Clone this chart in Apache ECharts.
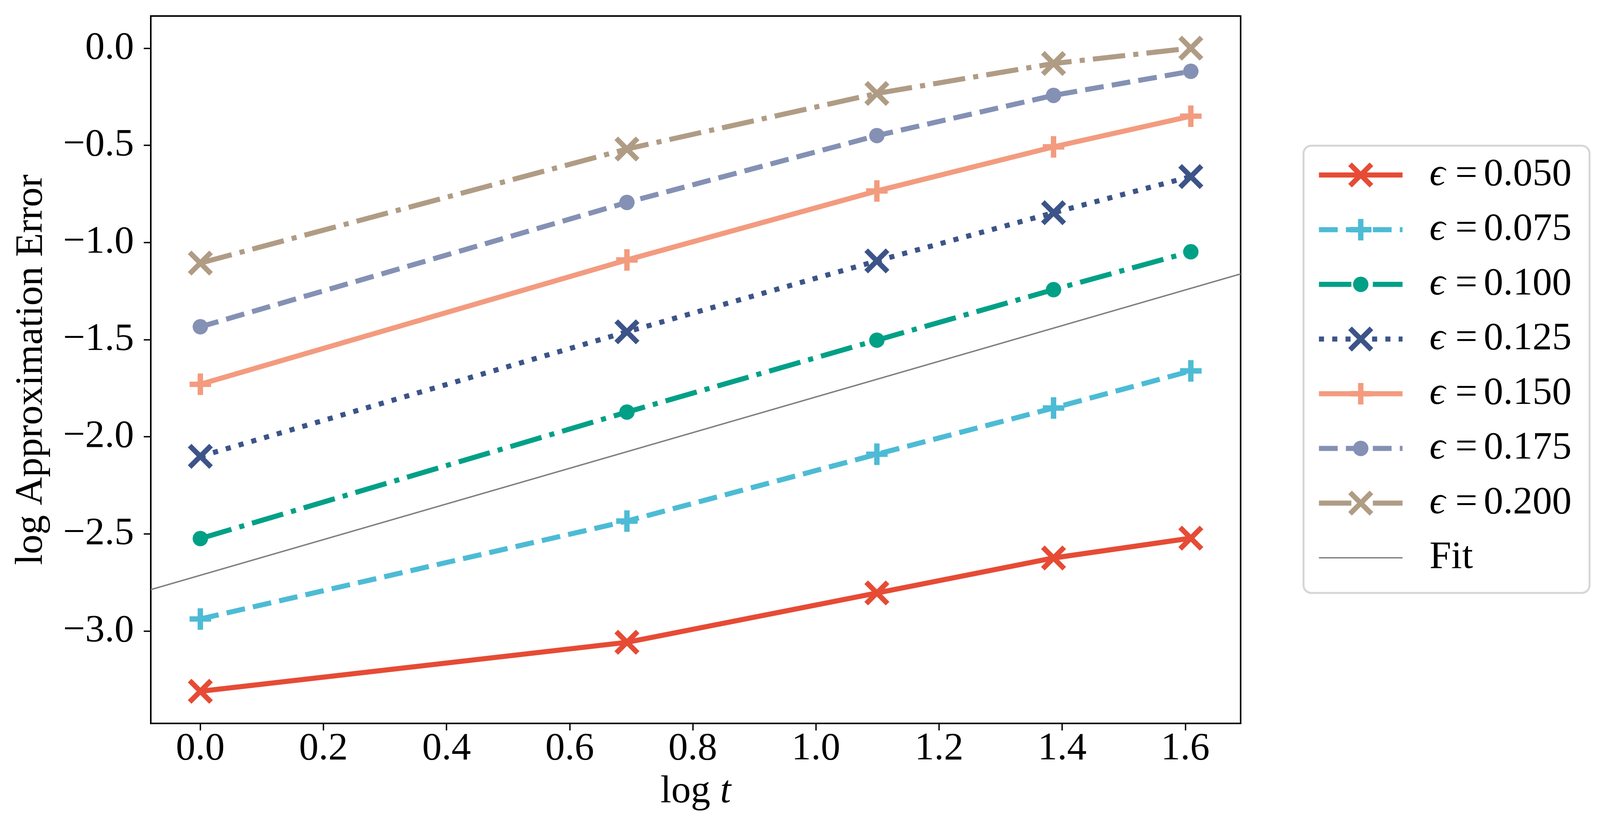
<!DOCTYPE html>
<html>
<head>
<meta charset="utf-8">
<title>log Approximation Error</title>
<script src="https://cdn.jsdelivr.net/npm/echarts@6/dist/echarts.min.js"></script>
<style>
    html, body { margin: 0; padding: 0; background: #fff; }
    #chart { width: 4113px; height: 2130px; }
</style>
</head>
<body>
<div id="chart"></div>
<script>
// x positions (log t) and values
var logT = [0, 0.693, 1.099, 1.386, 1.609];
var eps050 = [-3.310, -3.058, -2.804, -2.624, -2.522];
var eps075 = [-2.938, -2.434, -2.090, -1.852, -1.661];
var eps100 = [-2.524, -1.873, -1.503, -1.243, -1.048];
var eps125 = [-2.101, -1.460, -1.095, -0.847, -0.661];
var eps150 = [-1.730, -1.090, -0.735, -0.508, -0.350];
var eps175 = [-1.434, -0.794, -0.450, -0.243, -0.119];
var eps200 = [-1.106, -0.519, -0.233, -0.079, 0.000];
var seriesNames = ['ϵ = 0.050', 'ϵ = 0.075', 'ϵ = 0.100', 'ϵ = 0.125', 'ϵ = 0.150', 'ϵ = 0.175', 'ϵ = 0.200'];
// fit line, end points at the axis edges
var fitX = [-0.0805, 1.6899];
var fitY = [-2.787, -1.162];
var xTicks = [0, 0.2, 0.4, 0.6, 0.8, 1.0, 1.2, 1.4, 1.6];
var yTicks = [-3.0, -2.5, -2.0, -1.5, -1.0, -0.5, 0.0];

var FONT = "'Liberation Serif', 'DejaVu Serif', serif";
var LW = 13;

// markers, all drawn in a 10x10 box so one symbolSize fits all
var SYM_X = 'path://M0 0M10 10M0 1.45L1.45 0L10 8.55L8.55 10ZM8.55 0L10 1.45L1.45 10L0 8.55Z';
var SYM_PLUS = 'path://M0 0M10 10M3.92 0.7H6.08V3.92H9.3V6.08H6.08V9.3H3.92V6.08H0.7V3.92H3.92Z';
var SYM_DOT = 'path://M0 0M10 10M5 1.92A3.08 3.08 0 1 1 5 8.08A3.08 3.08 0 1 1 5 1.92Z';

var DASHED = [48, 21];
var DASHDOT = [83, 21, 13, 21];
var DOTTED = [13, 21];

function pairs(xs, ys) {
    var out = [];
    for (var i = 0; i < xs.length; i++) out.push([xs[i], ys[i]]);
    return out;
}

function lineSeries(name, values, color, symbol, dash) {
    return {
        name: name,
        type: 'line',
        data: pairs(logT, values),
        symbol: symbol,
        symbolSize: 64,
        showSymbol: true,
        itemStyle: { color: color },
        lineStyle: { color: color, width: LW, type: dash, cap: 'butt', join: 'miter' },
        emphasis: { disabled: true },
        z: 3
    };
}

function fmt(v) {
    return v.toFixed(1).replace('-', '\u2212');
}

var chart = echarts.init(document.getElementById('chart'), null, { renderer: 'canvas' });

var series = [
    lineSeries(seriesNames[0], eps050, '#E64B35', SYM_X, 'solid'),
    lineSeries(seriesNames[1], eps075, '#4DBBD5', SYM_PLUS, DASHED),
    lineSeries(seriesNames[2], eps100, '#00A087', SYM_DOT, DASHDOT),
    lineSeries(seriesNames[3], eps125, '#3C5488', SYM_X, DOTTED),
    lineSeries(seriesNames[4], eps150, '#F39B7F', SYM_PLUS, 'solid'),
    lineSeries(seriesNames[5], eps175, '#8491B4', SYM_DOT, DASHED),
    lineSeries(seriesNames[6], eps200, '#B09C85', SYM_X, DASHDOT),
    {
        name: 'Fit',
        type: 'line',
        data: pairs(fitX, fitY),
        symbol: 'none',
        itemStyle: { color: '#7f7f7f' },
        lineStyle: { color: '#7f7f7f', width: 3.5, type: 'solid' },
        emphasis: { disabled: true },
        z: 4
    }
];

var legendData = seriesNames.map(function (n) { return { name: n }; });
legendData.push({ name: 'Fit', itemStyle: { opacity: 0 }, lineStyle: { width: 3.5 } });

chart.setOption({
    animation: false,
    backgroundColor: '#ffffff',
    grid: {
        left: 386, top: 41, right: 937, bottom: 278,
        show: true, borderColor: '#000', borderWidth: 4, backgroundColor: 'transparent'
    },
    xAxis: {
        type: 'value',
        min: -0.0805, max: 1.6899,
        name: '{r|log }{i|t}',
        nameLocation: 'middle',
        nameGap: 126,
        nameTextStyle: {
            rich: {
                r: { fontFamily: FONT, fontSize: 100, color: '#000' },
                i: { fontFamily: FONT, fontSize: 100, fontStyle: 'italic', color: '#000' }
            }
        },
        axisLine: { show: true, onZero: false, lineStyle: { color: '#000', width: 4 } },
        axisTick: { show: true, inside: false, length: 18, lineStyle: { color: '#000', width: 3.5 }, customValues: xTicks },
        axisLabel: { show: true, margin: 16, fontFamily: FONT, fontSize: 100, color: '#000', customValues: xTicks, formatter: fmt },
        splitLine: { show: false }
    },
    yAxis: {
        type: 'value',
        min: -3.4755, max: 0.1655,
        name: 'log Approximation Error',
        nameLocation: 'middle',
        nameGap: 255,
        nameRotate: 90,
        nameTextStyle: { fontFamily: FONT, fontSize: 100, color: '#000' },
        axisLine: { show: true, onZero: false, lineStyle: { color: '#000', width: 4 } },
        axisTick: { show: true, inside: false, length: 18, lineStyle: { color: '#000', width: 3.5 }, customValues: yTicks },
        axisLabel: { show: true, margin: 43, fontFamily: FONT, fontSize: 100, color: '#000', customValues: yTicks, formatter: fmt },
        splitLine: { show: false }
    },
    legend: {
        data: legendData,
        orient: 'vertical',
        left: 3337,
        top: 373,
        padding: [25, 46, 40, 33],
        itemWidth: 214,
        itemHeight: 80,
        itemGap: 40,
        backgroundColor: '#fff',
        borderColor: '#d6d6d6',
        borderWidth: 5,
        borderRadius: 20,
        selectedMode: false,
        lineStyle: { width: LW, cap: 'butt' },
        formatter: function (name) {
            if (name.charAt(0) === 'ϵ') return '{g| }{e|ϵ}{q|=}{n|' + name.substring(4) + '}';
            return '{g| }{n|' + name + '}';
        },
        textStyle: {
            fontFamily: FONT, fontSize: 100, color: '#000',
            rich: {
                g: { width: 64, fontSize: 100 },
                e: { fontFamily: FONT, fontSize: 100, fontStyle: 'italic', color: '#000' },
                q: { fontFamily: FONT, fontSize: 100, color: '#000', padding: [0, 16, 0, 26] },
                n: { fontFamily: FONT, fontSize: 100, color: '#000' }
            }
        }
    },
    series: series
});
</script>
</body>
</html>
